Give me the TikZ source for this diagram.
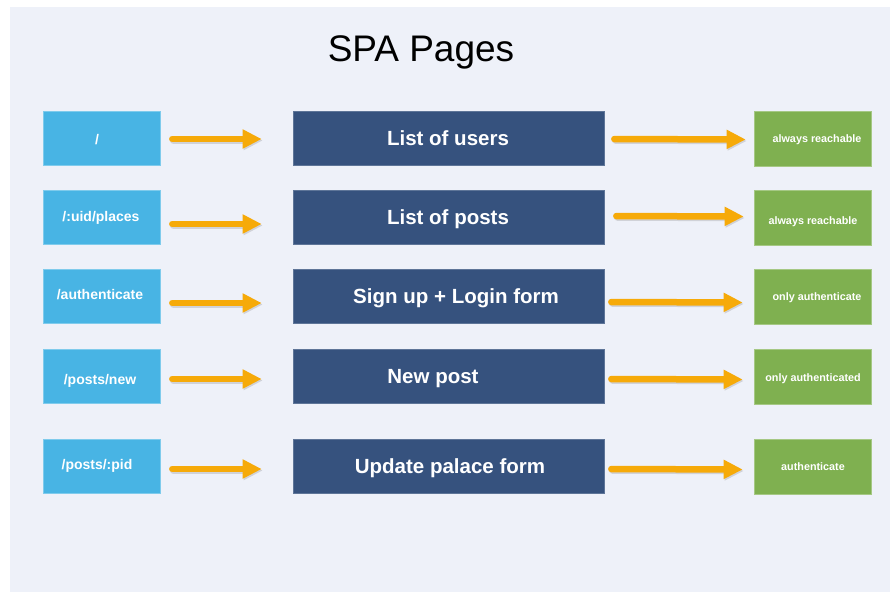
\documentclass[tikz,border=0pt]{standalone}
\usepackage{fontspec}
\setmainfont{Liberation Sans}
\usetikzlibrary{arrows.meta}
\definecolor{bgpanel}{HTML}{EEF1F9}
\definecolor{routeblue}{HTML}{48B4E4}
\definecolor{pagedark}{HTML}{36527E}
\definecolor{accgreen}{HTML}{7FB050}
\definecolor{arrorange}{HTML}{F6AA09}
\tikzset{
  routebox/.style={fill=routeblue, draw=routeblue!70!white, line width=0.6pt, minimum width=117pt, minimum height=54pt, inner sep=0pt},
  pagebox/.style={fill=pagedark, draw=pagedark!80!white, line width=0.6pt, minimum width=311pt, minimum height=54pt, inner sep=0pt},
  accbox/.style={fill=accgreen, draw=accgreen!70!white, line width=0.6pt, minimum width=117pt, minimum height=55pt, inner sep=0pt},
  lbl/.style={inner sep=0pt, text=white, anchor=base},
  routetxt/.style={lbl, font=\bfseries\fontsize{14}{16}\selectfont},
  pagetxt/.style={lbl, font=\bfseries\fontsize{20.5}{24}\selectfont},
  acctxt/.style={lbl, font=\bfseries\fontsize{10.8}{12}\selectfont},
  arr/.style={draw=arrorange, line width=6.5pt, line cap=round, -{Triangle[length=19pt,width=18pt]}},
  arrshadow/.style={draw=black!60, opacity=0.22, line width=6.5pt, line cap=round, -{Triangle[length=19pt,width=18pt]}},
}
\newcommand{\myarrow}[4]{%
  \draw[arrshadow, shorten <=#3, shorten >=#4, transform canvas={xshift=1pt,yshift=-1.5pt}] #1 -- #2;
  \draw[arr, shorten <=#3, shorten >=#4] #1 -- #2;}
\begin{document}
\begin{tikzpicture}[x=1pt,y=-1pt]
\useasboundingbox (0,0) rectangle (890,592);
\fill[white] (0,0) rectangle (890,592);
\fill[bgpanel] (10,7) rectangle (890,592);
\node[font=\fontsize{37}{42}\selectfont, inner sep=0pt, anchor=base] (title) at (421,61) {SPA Pages};

% route boxes
\node[routebox] (u1) at (101.5,138) {};
\node[routebox] (u2) at (101.5,217) {};
\node[routebox] (u3) at (101.5,296) {};
\node[routebox] (u4) at (101.5,376) {};
\node[routebox] (u5) at (101.5,466) {};
% page boxes
\node[pagebox] (p1) at (448.5,138) {};
\node[pagebox] (p2) at (448.5,217) {};
\node[pagebox] (p3) at (448.5,296) {};
\node[pagebox] (p4) at (448.5,376) {};
\node[pagebox] (p5) at (448.5,466) {};
% access boxes
\node[accbox] (g1) at (812.5,138.5) {};
\node[accbox] (g2) at (812.5,217.5) {};
\node[accbox] (g3) at (812.5,296.5) {};
\node[accbox] (g4) at (812.5,376.5) {};
\node[accbox] (g5) at (812.5,466.5) {};

% labels (base line placement)
\node[routetxt] (t1) at (97,144) {/};
\node[routetxt] (t2) at (101,221) {/:uid/places};
\node[routetxt] (t3) at (100,299) {/authenticate};
\node[routetxt] (t4) at (100,384) {/posts/new};
\node[routetxt] (t5) at (97,469) {/posts/:pid};

\node[pagetxt] (s1) at (448,145) {List of users};
\node[pagetxt] (s2) at (448,224) {List of posts};
\node[pagetxt] (s3) at (456,303) {Sign up + Login form};
\node[pagetxt] (s4) at (433,383) {New post};
\node[pagetxt] (s5) at (450,473) {Update palace form};

\node[acctxt] (a1) at (817,142) {always reachable};
\node[acctxt] (a2) at (813,224) {always reachable};
\node[acctxt] (a3) at (817,300) {only authenticate};
\node[acctxt] (a4) at (813,381) {only authenticated};
\node[acctxt] (a5) at (813,470) {authenticate};

% arrows route -> page
\myarrow{([yshift=-1pt]u1.east)}{([yshift=-1pt]p1.west)}{12pt}{31pt}
\myarrow{([yshift=-7pt]u2.east)}{([yshift=-7pt]p2.west)}{12pt}{31pt}
\myarrow{([yshift=-7pt]u3.east)}{([yshift=-7pt]p3.west)}{12pt}{31pt}
\myarrow{([yshift=-3pt]u4.east)}{([yshift=-3pt]p4.west)}{12pt}{31pt}
\myarrow{([yshift=-3pt]u5.east)}{([yshift=-3pt]p5.west)}{12pt}{31pt}
% arrows page -> access
\myarrow{([yshift=-1pt]p1.east)}{([yshift=-1pt]g1.west)}{10pt}{8pt}
\myarrow{([yshift=1pt]p2.east)}{([yshift=1pt]g2.west)}{12pt}{10pt}
\myarrow{([yshift=-6pt]p3.east)}{([yshift=-6pt]g3.west)}{7pt}{11pt}
\myarrow{([yshift=-3pt]p4.east)}{([yshift=-3pt]g4.west)}{7pt}{11pt}
\myarrow{([yshift=-3pt]p5.east)}{([yshift=-3pt]g5.west)}{7pt}{11pt}
\end{tikzpicture}
\end{document}
